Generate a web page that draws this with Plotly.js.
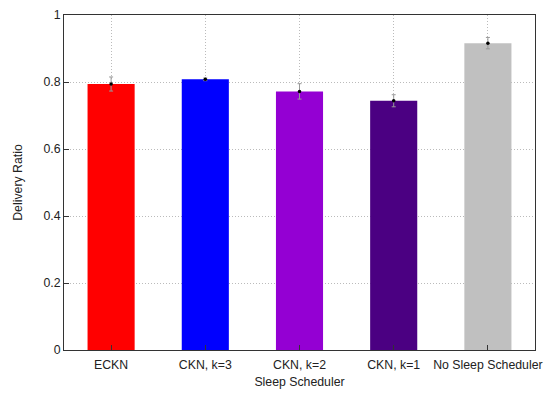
<!DOCTYPE html>
<html><head><meta charset="utf-8">
<script src="https://cdn.plot.ly/plotly-3.0.1.min.js"></script>
<style>html,body{margin:0;padding:0;background:#fff}</style>
</head><body><div id="chart" style="width:550px;height:395px"></div>
<script>
const categories = ["ECKN", "CKN, k=3", "CKN, k=2", "CKN, k=1", "No Sleep Scheduler"];
const deliveryRatio = [0.794, 0.808, 0.772, 0.744, 0.916];
const errorHalf = [0.021, 0.004, 0.023, 0.018, 0.017];
const barColors = ["#ff0000", "#0000ff", "#9400d3", "#4b0082", "#c0c0c0"];
const yTicks = [0, 0.2, 0.4, 0.6, 0.8, 1];

const traces = [
  {type: "bar", x: categories, y: deliveryRatio, width: 0.5,
   marker: {color: barColors, line: {width: 0}}, hoverinfo: "skip"},
  {type: "scatter", mode: "markers", x: categories, y: deliveryRatio,
   marker: {color: "#000", size: 3.5},
   error_y: {type: "data", array: errorHalf, visible: true, color: "#999", thickness: 1, width: 2}}
];
const font = {family: "Liberation Sans, Arial, sans-serif", size: 12.3, color: "#222"};
const layout = {
  width: 550, height: 395, showlegend: false,
  margin: {l: 64, r: 15, t: 15, b: 45},
  paper_bgcolor: "#fff", plot_bgcolor: "#fff", font: font,
  xaxis: {type: "category", range: [-0.5, 4.5], showgrid: true, gridcolor: "#bbbbbb", griddash: "1px,2px", gridwidth: 1,
          showline: true, linecolor: "#333", linewidth: 1, mirror: true, ticks: "inside", ticklen: 5, tickcolor: "#333",
          ticklabelstandoff: 3,
          title: {text: "Sleep Scheduler", font: font, standoff: 6}, tickfont: font, zeroline: false},
  yaxis: {range: [0, 1], tickvals: yTicks, ticktext: yTicks.map(String), showgrid: true, gridcolor: "#bbbbbb", griddash: "1px,2px", gridwidth: 1,
          showline: true, linecolor: "#333", linewidth: 1, mirror: true, ticks: "inside", ticklen: 5, tickcolor: "#333",
          title: {text: "Delivery Ratio", font: font, standoff: 18}, tickfont: font, zeroline: false}
};
Plotly.newPlot("chart", traces, layout, {displayModeBar: false, staticPlot: true});
</script></body></html>
